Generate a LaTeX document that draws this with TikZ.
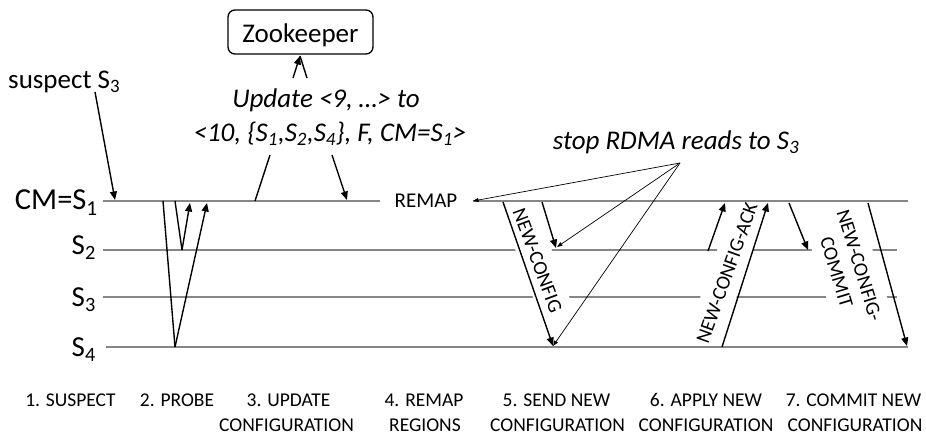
\documentclass[tikz,border=0pt]{standalone}
\usepackage{fontspec}
\setmainfont{Carlito}
\usetikzlibrary{arrows.meta}
\newcommand{\sbs}[1]{\textsubscript{#1}}
\definecolor{tlgray}{RGB}{134,134,134}
\begin{document}
\begin{tikzpicture}[x=1pt,y=-1pt,
  tl/.style={tlgray, line width=2pt},
  ln/.style={black, line width=1.4pt},
  arr/.style={black, line width=1.4pt, -{Triangle[length=8.5pt,width=7pt]}},
  thinarr/.style={black, line width=0.7pt, -{Triangle[length=5.5pt,width=4pt]}},
  rlab/.style={fill=white, inner sep=2pt, font=\fontsize{20}{24}\selectfont, align=center},
  blab/.style={anchor=base, inner sep=0pt, font=\fontsize{19.5}{22}\selectfont},
  slab/.style={anchor=base east, inner sep=0pt, font=\fontsize{29}{32}\selectfont},
  big/.style={inner sep=0pt, font=\fontsize{27}{30}\selectfont},
]
\useasboundingbox (0,0) rectangle (926,435);

% timeline end points
\coordinate (cmA) at (103,201); \coordinate (cmB) at (380,201);
\coordinate (cmC) at (473,201); \coordinate (cmD) at (908,201);
\coordinate (s2A) at (103,250); \coordinate (s2B) at (897,250);
\coordinate (s3A) at (103,297); \coordinate (s3B) at (897,297);
\coordinate (s4A) at (106,347); \coordinate (s4B) at (908,347);

% left labels
\node[slab, font=\fontsize{30.5}{33}\selectfont] (cm) at (98,210) {CM=S\sbs{1}};
\node[slab] (s2) at (96,255) {S\sbs{2}};
\node[slab] (s3) at (96,307) {S\sbs{3}};
\node[slab] (s4) at (96,357) {S\sbs{4}};

% timelines S2, S3 (masked by label boxes)
\draw[tl] (s2A) -- (s2B);
\draw[tl] (s3A) -- (s3B);

% rotated labels with white boxes
\node[rlab, rotate=-69.6, minimum height=34pt] (nc) at (537.5,260.5) {NEW-CONFIG};
\node[rlab, rotate=70.3, minimum height=34pt] (nca) at (727,273) {NEW-CONFIG-ACK};
\node[rlab, rotate=-73, minimum height=58pt] (ncc) at (848,269) {NEW-CONFIG-\\COMMIT};

% timelines CM and S4
\draw[tl] (cmA) -- (cmB);
\draw[tl] (cmC) -- (cmD);
\draw[tl] (s4A) -- (s4B);

% Zookeeper
\node[draw, rounded corners=7pt, line width=1.3pt, minimum width=145pt, minimum height=44pt,
      inner sep=0pt, text height=22pt, text depth=0pt, font=\fontsize{27}{30}\selectfont] (zk) at (300.5,32) {Zookeeper};

% texts
\node[big, anchor=base west] (sus) at (8,89) {suspect S\sbs{3}};
\node[big, anchor=base, font=\fontsize{27}{30}\selectfont\itshape] (up1) at (326,108) {Update <9, …> to};
\node[big, anchor=base, font=\fontsize{27}{30}\selectfont\itshape] (up2) at (330,142) {<10, \{S\sbs{1},S\sbs{2},S\sbs{4}\}, F, CM=S\sbs{1}>};
\node[big, anchor=base, font=\fontsize{27}{30}\selectfont\itshape] (stop) at (676,150) {stop RDMA reads to S\sbs{3}};
\node[anchor=base, inner sep=0pt, font=\fontsize{21}{24}\selectfont] (remap) at (426,208) {REMAP};

% bottom labels
\node[blab] (b1) at (70.5,406.5) {1. SUSPECT};
\node[blab] (b2) at (177,406.5) {2. PROBE};
\node[blab] (b3a) at (288.5,406.5) {3. UPDATE};
\node[blab] (b3b) at (286.5,431) {CONFIGURATION};
\node[blab] (b4a) at (424,406.5) {4. REMAP};
\node[blab] (b4b) at (425,431) {REGIONS};
\node[blab] (b5a) at (556.5,406.5) {5. SEND NEW};
\node[blab] (b5b) at (557.5,431) {CONFIGURATION};
\node[blab] (b6a) at (706,406.5) {6. APPLY NEW};
\node[blab] (b6b) at (706,431) {CONFIGURATION};
\node[blab] (b7a) at (853.5,406.5) {7. COMMIT NEW};
\node[blab] (b7b) at (855,431) {CONFIGURATION};

% connector end points
\coordinate (zkL) at (293,78); \coordinate (zkR) at (307,78); \coordinate (zkT) at (300,56);
\coordinate (susA) at (95,92); \coordinate (susB) at (115,200);
\coordinate (u1) at (270,155); \coordinate (u1e) at (255,201);
\coordinate (u2) at (332,155); \coordinate (u2e) at (347,200);
\coordinate (pA) at (163,201); \coordinate (pB) at (175,347); \coordinate (pC) at (207,203);
\coordinate (pD) at (175,201); \coordinate (pE) at (182,250); \coordinate (pF) at (190,203);
\coordinate (ap) at (680,163);
\coordinate (rT) at (473,201); \coordinate (s2T) at (557,247); \coordinate (s4T) at (553,346);
\coordinate (n1a) at (503,202); \coordinate (n1b) at (553,346);
\coordinate (n2a) at (542,202); \coordinate (n2b) at (556,248);
\coordinate (k1a) at (708,251); \coordinate (k1b) at (725,203);
\coordinate (k2a) at (722,347); \coordinate (k2b) at (768,203);
\coordinate (c1a) at (789,203); \coordinate (c1b) at (808,250);
\coordinate (c2a) at (868,203); \coordinate (c2b) at (907,346);

% connectors
\draw[ln] (zkR) -- (zkT);
\draw[arr] (zkL) -- (zkT);
\draw[arr] (susA) -- (susB);
\draw[ln] (u1) -- (u1e);
\draw[arr] (u2) -- (u2e);
\draw[ln] (pA) -- (pB);
\draw[arr] (pB) -- (pC);
\draw[ln] (pD) -- (pE);
\draw[arr] (pE) -- (pF);
\draw[thinarr] (ap) -- (rT);
\draw[thinarr] (ap) -- (s2T);
\draw[thinarr] (ap) -- (s4T);
\draw[arr] (n1a) -- (n1b);
\draw[arr] (n2a) -- (n2b);
\draw[arr] (k1a) -- (k1b);
\draw[arr] (k2a) -- (k2b);
\draw[arr] (c1a) -- (c1b);
\draw[arr] (c2a) -- (c2b);
\end{tikzpicture}
\end{document}
